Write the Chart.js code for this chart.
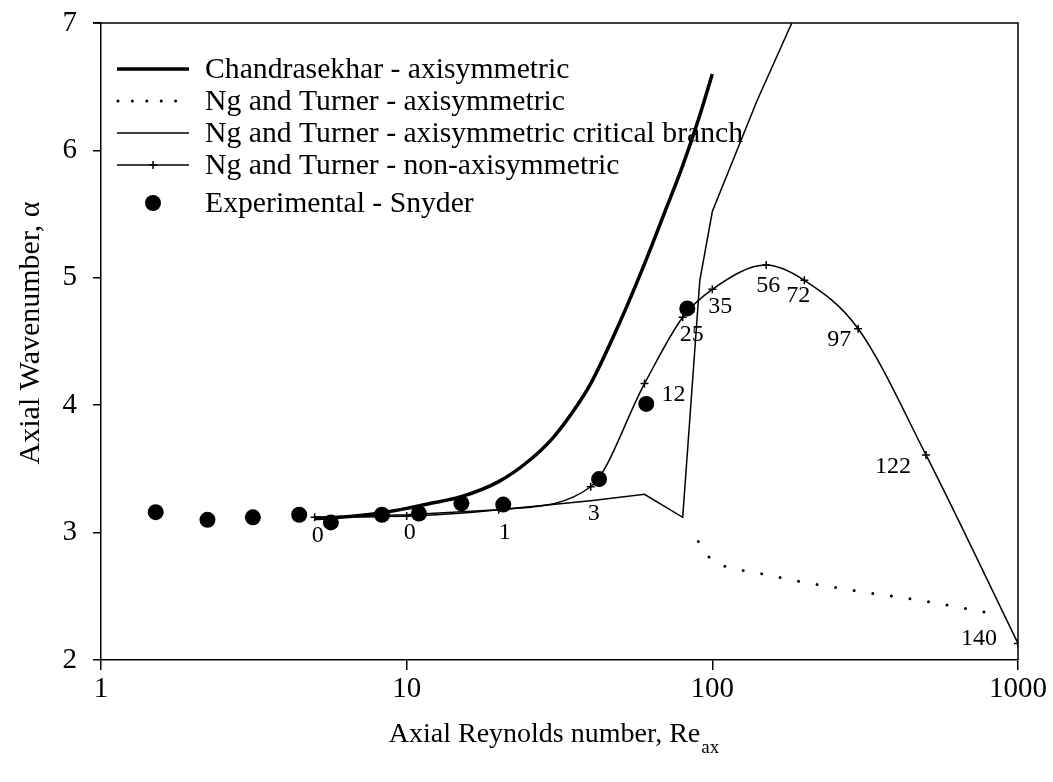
<!DOCTYPE html>
<html>
<head>
<meta charset="utf-8">
<script src="https://cdn.jsdelivr.net/npm/chart.js@4.4.1/dist/chart.umd.min.js"></script>
<style>
  html, body { margin: 0; padding: 0; background: #ffffff; }
  #wrap { width: 1053px; height: 782px; }
</style>
</head>
<body>
<div id="wrap"><canvas id="chart" width="1053" height="782"></canvas></div>
<script>
// Chandrasekhar – axisymmetric
const chandraRe    = [5, 6, 8, 10, 12, 15, 20, 25, 30, 35, 40, 50, 60, 70, 80, 90, 100];
const chandraAlpha = [3.11, 3.12, 3.15, 3.19, 3.23, 3.28, 3.40, 3.56, 3.74, 3.95, 4.17, 4.66, 5.11, 5.52, 5.88, 6.24, 6.60];

// Ng and Turner – axisymmetric (dotted branch)
const ntAxiRe    = [90, 100, 115, 150, 200, 300, 500, 800, 880];
const ntAxiAlpha = [2.93, 2.78, 2.725, 2.67, 2.61, 2.54, 2.46, 2.37, 2.35];

// Ng and Turner – axisymmetric critical branch
const ntCritRe    = [5, 10, 20, 30, 40, 60, 80, 91, 100, 140, 182];
const ntCritAlpha = [3.12, 3.14, 3.18, 3.22, 3.25, 3.30, 3.12, 4.98, 5.52, 6.39, 7.00];

// Ng and Turner – non-axisymmetric, with the labelled value at each point
const ntNonRe     = [5, 10, 20, 40, 60, 80, 100, 150, 200, 300, 500, 1000];
const ntNonAlpha  = [3.12, 3.13, 3.18, 3.36, 4.17, 4.69, 4.91, 5.10, 4.98, 4.60, 3.61, 2.13];
const ntNonLabels = ['0', '0', '1', '3', '12', '25', '35', '56', '72', '97', '122', '140'];

// Experimental – Snyder
const snyderRe    = [1.51, 2.23, 3.14, 4.45, 5.65, 8.3, 10.97, 15.1, 20.7, 42.6, 60.8, 82.8];
const snyderAlpha = [3.16, 3.10, 3.12, 3.14, 3.08, 3.14, 3.15, 3.23, 3.22, 3.42, 4.01, 4.76];

// Axis ticks
const xTickValues = [1, 10, 100, 1000];
const yTickValues = [2, 3, 4, 5, 6, 7];

const SERIF = '"Liberation Serif", "Times New Roman", serif';
const zip = (xs, ys) => xs.map((x, i) => ({ x: x, y: ys[i] }));

// Placement of each value label relative to its point (pixels)
const labelOffsets = [[3, 18], [3, 17], [6, 23], [3, 27], [29, 11], [9, 17], [8, 17], [2, 21], [-6, 15], [-19, 11], [-33, 12], [-39, -5]];

const frameBox = {
  id: 'frameBox',
  afterDatasetsDraw(chart) {
    const { ctx, chartArea: a } = chart;
    ctx.save();
    ctx.strokeStyle = '#000';
    ctx.lineWidth = 1.5;
    ctx.beginPath();
    ctx.moveTo(a.left - 8, a.top);
    ctx.lineTo(a.right, a.top);
    ctx.lineTo(a.right, a.bottom);
    ctx.stroke();
    ctx.restore();
  }
};

const pointLabels = {
  id: 'pointLabels',
  afterDatasetsDraw(chart) {
    const { ctx } = chart;
    const idx = chart.data.datasets.findIndex(d => d.id === 'nonaxi');
    const meta = chart.getDatasetMeta(idx);
    ctx.save();
    ctx.fillStyle = '#000';
    ctx.font = '24px ' + SERIF;
    ctx.textAlign = 'center';
    ctx.textBaseline = 'middle';
    meta.data.forEach((pt, i) => {
      const off = labelOffsets[i];
      ctx.fillText(ntNonLabels[i], pt.x + off[0], pt.y + off[1]);
    });
    ctx.restore();
  }
};

const legendBox = {
  id: 'legendBox',
  afterDraw(chart, args, opts) {
    const { ctx } = chart;
    const rows = opts.rows;
    const x0 = opts.sampleLeft, x1 = opts.sampleRight, xm = (x0 + x1) / 2;
    ctx.save();
    chart.data.datasets.forEach((ds, i) => {
      const y = rows[i];
      ctx.strokeStyle = '#000';
      ctx.fillStyle = '#000';
      if (ds.showLine !== false) {
        ctx.lineWidth = ds.borderWidth;
        ctx.lineCap = ds.legendCap || 'butt';
        ctx.setLineDash(ds.legendDash || []);
        ctx.beginPath();
        ctx.moveTo(ds.legendDash ? x0 + 1 : x0, y);
        ctx.lineTo(ds.legendDash ? x1 - 13 : x1, y);
        ctx.stroke();
        ctx.setLineDash([]);
      }
      if (ds.pointStyle === 'cross' && ds.pointRadius > 0) {
        ctx.lineWidth = ds.pointBorderWidth;
        ctx.beginPath();
        ctx.moveTo(xm - ds.pointRadius, y); ctx.lineTo(xm + ds.pointRadius, y);
        ctx.moveTo(xm, y - ds.pointRadius); ctx.lineTo(xm, y + ds.pointRadius);
        ctx.stroke();
      }
      if (ds.pointStyle === 'circle' && ds.pointRadius > 0) {
        ctx.beginPath();
        ctx.arc(xm, y, ds.pointRadius, 0, Math.PI * 2);
        ctx.fill();
      }
      ctx.font = opts.font;
      ctx.textAlign = 'left';
      ctx.textBaseline = 'middle';
      ctx.fillText(ds.label, opts.textLeft, y + 1);
    });
    ctx.restore();
  }
};

const axisTitles = {
  id: 'axisTitles',
  afterDraw(chart) {
    const { ctx, chartArea: a } = chart;
    ctx.save();
    ctx.fillStyle = '#000';
    // x title with subscript
    const main = 'Axial Reynolds number, Re';
    const sub = 'ax';
    ctx.font = '28px ' + SERIF;
    const wMain = ctx.measureText(main).width;
    ctx.font = '19px ' + SERIF;
    const wSub = ctx.measureText(sub).width;
    const cx = (a.left + a.right) / 2 - 6;
    const startX = cx - (wMain + wSub) / 2;
    ctx.textAlign = 'left';
    ctx.textBaseline = 'alphabetic';
    ctx.font = '28px ' + SERIF;
    ctx.fillText(main, startX, 742);
    ctx.font = '19px ' + SERIF;
    ctx.fillText(sub, startX + wMain + 1, 753);
    // y title
    ctx.font = '30px ' + SERIF;
    ctx.translate(31, 333);
    ctx.rotate(-Math.PI / 2);
    ctx.textAlign = 'center';
    ctx.textBaseline = 'middle';
    ctx.fillText('Axial Wavenumber, \u03b1', 0, 0);
    ctx.restore();
  }
};

new Chart(document.getElementById('chart'), {
  type: 'line',
  data: {
    datasets: [
      {
        id: 'chandra',
        label: 'Chandrasekhar - axisymmetric',
        data: zip(chandraRe, chandraAlpha),
        borderColor: '#000',
        borderWidth: 3.5,
        pointRadius: 0,
        cubicInterpolationMode: 'monotone'
      },
      {
        id: 'ntaxi',
        label: 'Ng and Turner - axisymmetric',
        data: zip(ntAxiRe, ntAxiAlpha),
        borderColor: '#000',
        borderWidth: 3,
        borderDash: [0, 18.8],
        borderCapStyle: 'round',
        legendDash: [0, 14.4],
        legendCap: 'round',
        pointRadius: 0,
        cubicInterpolationMode: 'monotone'
      },
      {
        id: 'crit',
        label: 'Ng and Turner - axisymmetric critical branch',
        data: zip(ntCritRe, ntCritAlpha),
        borderColor: '#000',
        borderWidth: 1.5,
        pointRadius: 0,
        tension: 0
      },
      {
        id: 'nonaxi',
        label: 'Ng and Turner - non-axisymmetric',
        data: zip(ntNonRe, ntNonAlpha),
        borderColor: '#000',
        borderWidth: 1.5,
        pointStyle: 'cross',
        pointRadius: 4,
        pointBorderWidth: 1.5,
        pointBorderColor: '#000',
        cubicInterpolationMode: 'monotone'
      },
      {
        id: 'snyder',
        label: 'Experimental - Snyder',
        data: zip(snyderRe, snyderAlpha),
        showLine: false,
        pointStyle: 'circle',
        pointRadius: 8,
        pointBackgroundColor: '#000',
        pointBorderColor: '#000',
        pointBorderWidth: 0
      }
    ]
  },
  options: {
    responsive: false,
    animation: false,
    devicePixelRatio: 1,
    layout: { padding: { left: 0, top: 23, right: 35, bottom: 0 } },
    plugins: {
      legend: { display: false },
      tooltip: { enabled: false },
      legendBox: {
        rows: [69, 101, 133, 165, 203],
        sampleLeft: 117,
        sampleRight: 189,
        textLeft: 205,
        font: '29.7px ' + SERIF
      }
    },
    scales: {
      x: {
        type: 'logarithmic',
        min: 1,
        max: 1000,
        border: { display: true, color: '#000', width: 1.5 },
        grid: { drawOnChartArea: false, drawTicks: true, tickLength: 10, color: '#000', lineWidth: 1.5 },
        ticks: {
          color: '#000',
          font: { family: SERIF, size: 29 },
          padding: 2,
          maxRotation: 0,
          autoSkip: false,
          callback: v => String(v)
        },
        afterBuildTicks: s => { s.ticks = xTickValues.map(v => ({ value: v })); },
        afterFit: s => { s.height = 122; }
      },
      y: {
        type: 'linear',
        min: 2,
        max: 7,
        border: { display: true, color: '#000', width: 1.5 },
        grid: { drawOnChartArea: false, drawTicks: true, tickLength: 8, color: '#000', lineWidth: 1.5 },
        ticks: {
          color: '#000',
          font: { family: SERIF, size: 29, lineHeight: 0.4 },
          padding: 16,
          callback: v => String(v)
        },
        afterBuildTicks: s => { s.ticks = yTickValues.map(v => ({ value: v })); },
        afterFit: s => { s.width = 101; }
      }
    }
  },
  plugins: [frameBox, pointLabels, legendBox, axisTitles]
});
</script>
</body>
</html>
